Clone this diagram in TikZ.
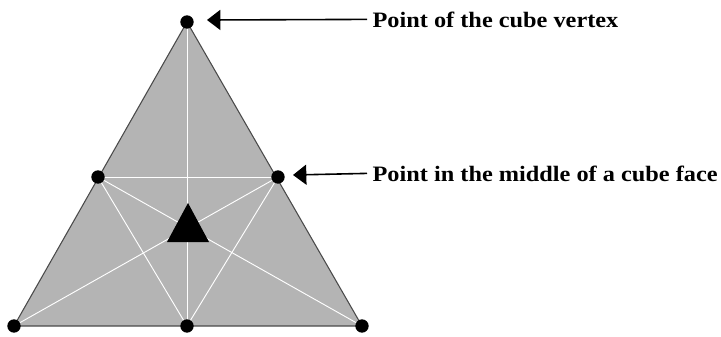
\documentclass[tikz,border=0pt]{standalone}
\usepackage{fontspec}
\setmainfont{Liberation Serif}
\usetikzlibrary{arrows.meta}
\definecolor{face}{HTML}{B4B4B4}
\definecolor{rim}{HTML}{4A4A4A}

\tikzset{
  lbl/.style={anchor=base west,inner xsep=4pt,inner ysep=0pt,
    font=\bfseries\fontsize{16.5}{19}\selectfont\addfontfeature{FakeStretch=1.105}},
  ptr/.style={-{Triangle[length=10pt,width=15pt]},line width=1.2pt},
  web/.style={white,line width=0.7pt},
}

\begin{document}
\begin{tikzpicture}[x=0.75pt,y=-0.75pt]
  \useasboundingbox (0,0) rectangle (721,336);
  % corners of the face triangle
  \coordinate (top) at (187,22);
  \coordinate (bl) at (14,326);
  \coordinate (br) at (362,326);
  \coordinate (bm) at (187,326);
  \coordinate (ml) at (98,177);
  \coordinate (mr) at (278,177);
  \fill[face] (top) -- (bl) -- (br) -- cycle;
  \draw[web] (ml) -- (mr);
  \draw[web] (top) -- (bm);
  \draw[web] (ml) -- (bm) -- (mr);
  \draw[web] (ml) -- (br);
  \draw[web] (mr) -- (bl);
  \draw[rim,line width=0.8pt] (top) -- (bl) -- (br) -- cycle;
  % centre marker
  \fill (167,242) -- (188,203) -- (209,242) -- cycle;
  \foreach \p in {top,ml,mr,bl,bm,br}
    \fill (\p) circle (5pt);
  % labels
  \node[lbl] (vtx) at (367,27) {Point of the cube vertex};
  \node[lbl] (fce) at (367,181) {Point in the middle of a cube face};
  \coordinate (vtxtip) at (207,20);
  \coordinate (fcetip) at (293,175);
  \draw[ptr] (vtx.west) -- (vtxtip);
  \draw[ptr] (fce.west) -- (fcetip);
\end{tikzpicture}
\end{document}
